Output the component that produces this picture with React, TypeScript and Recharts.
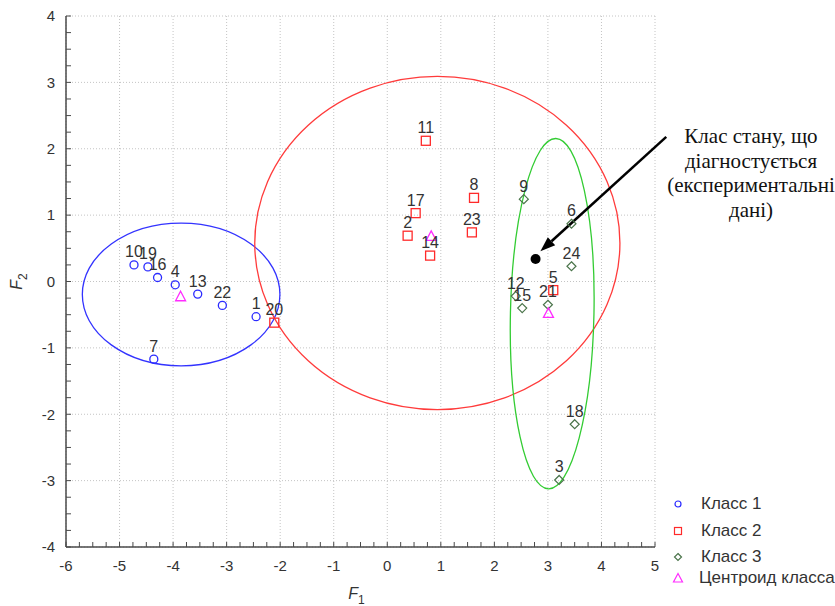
import React from "react";
import {
  ScatterChart,
  Scatter,
  XAxis,
  YAxis,
  CartesianGrid,
  ReferenceArea,
  ReferenceLine,
  LabelList,
} from "recharts";

const class1Labels = [1, 4, 7, 10, 13, 16, 19, 22];
const class1F1 = [-2.45, -3.96, -4.36, -4.73, -3.54, -4.29, -4.47, -3.08];
const class1F2 = [-0.53, -0.05, -1.17, 0.25, -0.19, 0.06, 0.22, -0.36];

const class2Labels = [2, 5, 8, 11, 14, 17, 20, 23];
const class2F1 = [0.38, 3.1, 1.62, 0.72, 0.8, 0.53, -2.11, 1.58];
const class2F2 = [0.69, -0.13, 1.26, 2.12, 0.39, 1.03, -0.62, 0.74];

const class3Labels = [3, 6, 9, 12, 15, 18, 21, 24];
const class3F1 = [3.21, 3.44, 2.55, 2.4, 2.52, 3.5, 3.0, 3.44];
const class3F2 = [-2.99, 0.87, 1.24, -0.22, -0.4, -2.15, -0.35, 0.23];

const centroidF1 = [-3.86, 0.82, 3.01];
const centroidF2 = [-0.23, 0.68, -0.48];

// diagnosed state (experimental data)
const diagnosedF1 = [2.77];
const diagnosedF2 = [0.34];

// class ellipses: centre and half-widths in F1 / F2 units
const ellipseCenterF1 = [-3.85, 0.935, 3.08];
const ellipseCenterF2 = [-0.195, 0.58, -0.485];
const ellipseRadiusF1 = [1.845, 3.41, 0.78];
const ellipseRadiusF2 = [1.075, 2.51, 2.64];
const ellipseTilt = [0, 0, 1.2];
const ellipseColors = ["#3333ff", "#ff3b3b", "#33cc33"];

// arrow from the note to the diagnosed point
const arrowFrom = { x: 5.21, y: 2.18 };
const arrowTo = { x: 2.86, y: 0.455 };

const xMajor = [-6, -5, -4, -3, -2, -1, 0, 1, 2, 3, 4, 5];
const yMajor = [-4, -3, -2, -1, 0, 1, 2, 3, 4];
const xTicks = xMajor.flatMap((v, i) => (i < xMajor.length - 1 ? [v, v + 0.25, v + 0.5, v + 0.75] : [v]));
const yTicks = yMajor.flatMap((v, i) => (i < yMajor.length - 1 ? [v, v + 0.25, v + 0.5, v + 0.75] : [v]));

const legendNames = ["Класс 1", "Класс 2", "Класс 3", "Центроид класса"];
const noteLines = ["Клас стану, що", "діагностується", "(експериментальні", "дані)"];

const toPoints = (f1: number[], f2: number[], labels?: number[]) =>
  f1.map((v, i) => ({ f1: v, f2: f2[i], label: labels ? String(labels[i]) : "" }));

const class1 = toPoints(class1F1, class1F2, class1Labels);
const class2 = toPoints(class2F1, class2F2, class2Labels);
const class3 = toPoints(class3F1, class3F2, class3Labels);
const centroids = toPoints(centroidF1, centroidF2);
const diagnosed = toPoints(diagnosedF1, diagnosedF2);

const BLUE = "#2b2bff";
const RED = "#ff2a2a";
const GREEN = "#4a744a";
const MAGENTA = "#ff2cff";
const AXIS = "#4a4a4a";
const TEXT = "#333";

const circleShape = (p: any) => (
  <circle cx={p.cx} cy={p.cy} r={4} fill="none" stroke={BLUE} strokeWidth={1.3} />
);
const squareShape = (p: any) => (
  <rect x={p.cx - 4.5} y={p.cy - 4.5} width={9} height={9} fill="none" stroke={RED} strokeWidth={1.3} />
);
const diamondShape = (p: any) => (
  <polygon
    points={`${p.cx},${p.cy - 4.5} ${p.cx + 4.5},${p.cy} ${p.cx},${p.cy + 4.5} ${p.cx - 4.5},${p.cy}`}
    fill="none"
    stroke={GREEN}
    strokeWidth={1.2}
  />
);
const triangleShape = (p: any) => (
  <polygon
    points={`${p.cx},${p.cy - 5.5} ${p.cx + 5},${p.cy + 4} ${p.cx - 5},${p.cy + 4}`}
    fill="none"
    stroke={MAGENTA}
    strokeWidth={1.3}
  />
);
const dotShape = (p: any) => <circle cx={p.cx} cy={p.cy} r={5} fill="#000" />;

const ellipseShape = (color: string, tilt: number) => (p: any) => {
  const cx = p.x + p.width / 2;
  const cy = p.y + p.height / 2;
  return (
    <ellipse
      cx={cx}
      cy={cy}
      rx={Math.abs(p.width) / 2}
      ry={Math.abs(p.height) / 2}
      fill="none"
      stroke={color}
      strokeWidth={1.3}
      transform={`rotate(${tilt} ${cx} ${cy})`}
    />
  );
};

const arrowShape = (p: any) => {
  const { x1, y1, x2, y2 } = p;
  const ang = Math.atan2(y2 - y1, x2 - x1);
  const len = 15;
  const half = 5.5;
  const bx = x2 - len * Math.cos(ang);
  const by = y2 - len * Math.sin(ang);
  const px = -Math.sin(ang) * half;
  const py = Math.cos(ang) * half;
  return (
    <g>
      <line x1={x1} y1={y1} x2={bx} y2={by} stroke="#000" strokeWidth={2.5} />
      <polygon points={`${x2},${y2} ${bx + px},${by + py} ${bx - px},${by - py}`} fill="#000" />
    </g>
  );
};

const XTitle = (props: any) => {
  const vb = props.viewBox;
  const cx = vb.x + vb.width / 2;
  return (
    <text x={cx - 4} y={vb.y + 52} fontSize={16} fill={TEXT} textAnchor="middle">
      <tspan fontStyle="italic">F</tspan>
      <tspan dy={5} fontSize={12}>1</tspan>
    </text>
  );
};

const YTitle = (props: any) => {
  const vb = props.viewBox;
  const cy = vb.y + vb.height / 2;
  const x = vb.x + 22;
  return (
    <text x={x} y={cy} fontSize={16} fill={TEXT} textAnchor="middle" transform={`rotate(-90 ${x} ${cy})`}>
      <tspan fontStyle="italic">F</tspan>
      <tspan dy={5} fontSize={12}>2</tspan>
    </text>
  );
};

const majorOnly = (v: number) => (Number.isInteger(v) ? String(v) : "");
const blank = () => "";

const legendIcons = [
  <circle cx={6} cy={6} r={3} fill="none" stroke={BLUE} strokeWidth={1.2} />,
  <rect x={2.5} y={2.5} width={7} height={7} fill="none" stroke={RED} strokeWidth={1.2} />,
  <polygon points="6,2.5 9.5,6 6,9.5 2.5,6" fill="none" stroke={GREEN} strokeWidth={1.2} />,
  <polygon points="6,1.5 10.5,10 1.5,10" fill="none" stroke={MAGENTA} strokeWidth={1.2} />,
];
const legendRowY = [504, 531, 557, 578];

export default function App() {
  return (
    <div
      style={{
        position: "absolute",
        left: 0,
        top: 0,
        width: 835,
        height: 606,
        overflow: "hidden",
        background: "#fff",
        fontFamily: "'Liberation Sans', Arial, sans-serif",
      }}
    >
      <ScatterChart width={835} height={606} margin={{ top: 16, right: 180, bottom: 0, left: 0 }}>
        <CartesianGrid
          stroke="#c4c4c4"
          strokeDasharray="1 2"
          horizontalValues={yMajor}
          verticalValues={xMajor}
        />
        <XAxis
          type="number"
          dataKey="f1"
          domain={[-6, 5]}
          ticks={xTicks}
          interval={0}
          allowDataOverflow
          height={59}
          tickSize={-5}
          tickMargin={18}
          tickFormatter={majorOnly}
          tick={{ fill: TEXT, fontSize: 15 }}
          axisLine={{ stroke: AXIS, strokeWidth: 1.5 }}
          tickLine={{ stroke: AXIS }}
          label={{ content: XTitle }}
        />
        <XAxis
          xAxisId="top"
          orientation="top"
          type="number"
          dataKey="f1"
          domain={[-6, 5]}
          ticks={xTicks}
          interval={0}
          allowDataOverflow
          height={0}
          tickSize={-5}
          tickFormatter={blank}
          axisLine={{ stroke: AXIS, strokeWidth: 1.5 }}
          tickLine={{ stroke: AXIS }}
        />
        <YAxis
          type="number"
          dataKey="f2"
          domain={[-4, 4]}
          ticks={yTicks}
          interval={0}
          allowDataOverflow
          width={66}
          tickSize={-5}
          tickMargin={16}
          tickFormatter={majorOnly}
          tick={{ fill: TEXT, fontSize: 15 }}
          axisLine={{ stroke: AXIS, strokeWidth: 1.5 }}
          tickLine={{ stroke: AXIS }}
          label={{ content: YTitle }}
        />
        <YAxis
          yAxisId="right"
          orientation="right"
          type="number"
          dataKey="f2"
          domain={[-4, 4]}
          ticks={yTicks}
          interval={0}
          allowDataOverflow
          width={0}
          tickSize={-5}
          tickFormatter={blank}
          axisLine={{ stroke: AXIS, strokeWidth: 1.5 }}
          tickLine={{ stroke: AXIS }}
        />

        {/* class ellipses */}
        {ellipseCenterF1.map((c, i) => (
          <ReferenceArea
            key={`ell-${i}`}
            x1={c - ellipseRadiusF1[i]}
            x2={c + ellipseRadiusF1[i]}
            y1={ellipseCenterF2[i] - ellipseRadiusF2[i]}
            y2={ellipseCenterF2[i] + ellipseRadiusF2[i]}
            ifOverflow="visible"
            shape={ellipseShape(ellipseColors[i], ellipseTilt[i])}
          />
        ))}

        <Scatter name="Класс 1" data={class1} shape={circleShape} isAnimationActive={false}>
          <LabelList dataKey="label" position="top" offset={3} fill={TEXT} fontSize={16} />
        </Scatter>
        <Scatter name="Класс 2" data={class2} shape={squareShape} isAnimationActive={false}>
          <LabelList dataKey="label" position="top" offset={3} fill={TEXT} fontSize={16} />
        </Scatter>
        <Scatter name="Класс 3" data={class3} shape={diamondShape} isAnimationActive={false}>
          <LabelList dataKey="label" position="top" offset={3} fill={TEXT} fontSize={16} />
        </Scatter>
        <Scatter name="Центроид класса" data={centroids} shape={triangleShape} isAnimationActive={false} />
        <Scatter name="diagnosed" data={diagnosed} shape={dotShape} isAnimationActive={false} />

        <ReferenceLine segment={[arrowFrom, arrowTo]} ifOverflow="visible" shape={arrowShape} />
      </ScatterChart>

      {/* note */}
      <div
        style={{
          position: "absolute",
          left: 651,
          top: 124,
          width: 200,
          textAlign: "center",
          fontFamily: "'Liberation Serif', 'Times New Roman', serif",
          fontSize: 21,
          lineHeight: "24.5px",
          color: "#111",
          whiteSpace: "nowrap",
        }}
      >
        {noteLines.map((l) => (
          <div key={l}>{l}</div>
        ))}
      </div>

      {/* legend */}
      {legendNames.map((name, i) => (
        <div
          key={name}
          style={{
            position: "absolute",
            left: 672,
            top: legendRowY[i] - 10,
            height: 20,
            lineHeight: "20px",
            display: "flex",
            alignItems: "center",
            whiteSpace: "nowrap",
            fontSize: 17,
            color: TEXT,
          }}
        >
          <svg width={12} height={12} style={{ marginRight: i === 3 ? 15 : 17 }}>
            {legendIcons[i]}
          </svg>
          <span>{name}</span>
        </div>
      ))}
    </div>
  );
}
